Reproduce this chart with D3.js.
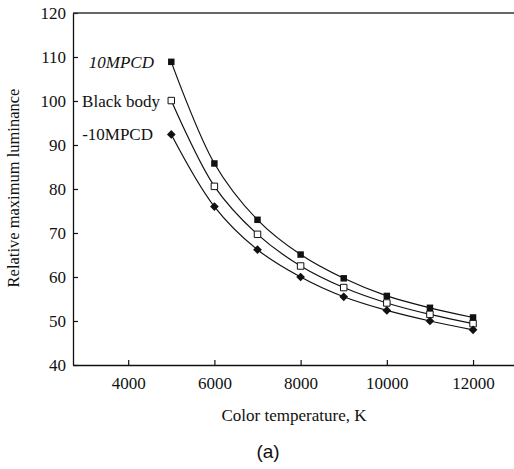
<!DOCTYPE html>
<html>
<head>
<meta charset="utf-8">
<script src="https://cdn.jsdelivr.net/npm/d3@7"></script>
<style>
  body { margin: 0; background: #fff; }
  svg { display: block; }
  text { font-family: "Liberation Serif", "Times New Roman", serif; fill: #111; }
</style>
</head>
<body>
<div id="chart"></div>
<script>
// colour temperature (K)
const temps = [5000, 6000, 7000, 8000, 9000, 10000, 11000, 12000];
// relative maximum luminance per series
const plus10 = [108.9, 85.8, 73.0, 65.1, 59.7, 55.7, 53.0, 50.8];
const blackBody = [100.1, 80.6, 69.7, 62.5, 57.6, 54.1, 51.5, 49.4];
const minus10 = [92.4, 76.0, 66.2, 60.0, 55.5, 52.4, 50.0, 48.0];
const seriesNames = ["10MPCD", "Black body", "-10MPCD"];
const xTicks = [4000, 6000, 8000, 10000, 12000];
const yTicks = [40, 50, 60, 70, 80, 90, 100, 110, 120];

const width = 514, height = 469;
const margin = { top: 13, right: 0, bottom: 104, left: 73 };

const svg = d3.select("#chart").append("svg")
  .attr("width", width)
  .attr("height", height);

const x = d3.scaleLinear().domain([2720, 12950]).range([margin.left, width - margin.right]);
const y = d3.scaleLinear().domain([40, 120]).range([height - margin.bottom, margin.top]);

// axes: ticks point inward
const xAxis = svg.append("g")
  .attr("transform", `translate(0,${y(40)})`)
  .call(d3.axisBottom(x).tickValues(xTicks).tickFormat(d3.format("d"))
    .tickSizeInner(-5).tickSizeOuter(0).tickPadding(12));
const yAxis = svg.append("g")
  .attr("transform", `translate(${x.range()[0]},0)`)
  .call(d3.axisLeft(y).tickValues(yTicks).tickFormat(d3.format("d"))
    .tickSizeInner(-5).tickSizeOuter(0).tickPadding(7));

[xAxis, yAxis].forEach(g => {
  g.attr("font-family", '"Liberation Serif", serif').attr("font-size", 17);
  g.select(".domain").attr("stroke", "#111").attr("stroke-width", 1.3);
  g.selectAll(".tick line").attr("stroke", "#111").attr("stroke-width", 1.2);
  g.selectAll(".tick text").attr("fill", "#111");
});
yAxis.selectAll(".tick text").attr("dy", "0.35em");
xAxis.selectAll(".tick text").attr("dy", "0.71em");

// top frame line
svg.append("line")
  .attr("x1", x.range()[0]).attr("x2", x.range()[1])
  .attr("y1", y(120)).attr("y2", y(120))
  .attr("stroke", "#333").attr("stroke-width", 1.3);

const line = d3.line()
  .x(d => x(d.t))
  .y(d => y(d.v))
  .curve(d3.curveCatmullRom.alpha(0.5));

const series = [plus10, blackBody, minus10].map((vals, i) => ({
  name: seriesNames[i],
  pts: temps.map((t, j) => ({ t: t, v: vals[j] }))
}));

svg.append("g").selectAll("path")
  .data(series)
  .join("path")
  .attr("d", d => line(d.pts))
  .attr("fill", "none")
  .attr("stroke", "#111")
  .attr("stroke-width", 1.2);

// markers
const sq = d3.symbol().type(d3.symbolSquare).size(42);
const dia = d3.symbol().type(d3.symbolSquare).size(38);
svg.append("g").selectAll("path")
  .data(series[0].pts).join("path")
  .attr("transform", d => `translate(${x(d.t)},${y(d.v)})`)
  .attr("d", sq).attr("fill", "#111");
svg.append("g").selectAll("path")
  .data(series[1].pts).join("path")
  .attr("transform", d => `translate(${x(d.t)},${y(d.v)})`)
  .attr("d", sq).attr("fill", "#fff").attr("stroke", "#111").attr("stroke-width", 1);
svg.append("g").selectAll("path")
  .data(series[2].pts).join("path")
  .attr("transform", d => `translate(${x(d.t)},${y(d.v)}) rotate(45)`)
  .attr("d", dia).attr("fill", "#111");

// series labels beside the first point
const labelEnd = [154, 160, 153];
series.forEach((s, i) => {
  svg.append("text")
    .attr("x", labelEnd[i])
    .attr("y", y(s.pts[0].v))
    .attr("dy", "0.35em")
    .attr("text-anchor", "end")
    .style("font-size", "17px")
    .style("font-style", i === 0 ? "italic" : "normal")
    .text(s.name);
});

// axis titles
svg.append("text")
  .attr("x", 294)
  .attr("y", 421)
  .attr("text-anchor", "middle")
  .style("font-size", "17px")
  .text("Color temperature, K");

svg.append("text")
  .attr("transform", `translate(19,188) rotate(-90)`)
  .attr("text-anchor", "middle")
  .style("font-size", "16.5px")
  .text("Relative maximum luminance");

svg.append("text")
  .attr("x", 268)
  .attr("y", 458)
  .attr("text-anchor", "middle")
  .style("font-size", "19px")
  .style("font-family", '"Liberation Sans", sans-serif')
  .text("(a)");
</script>
</body>
</html>
